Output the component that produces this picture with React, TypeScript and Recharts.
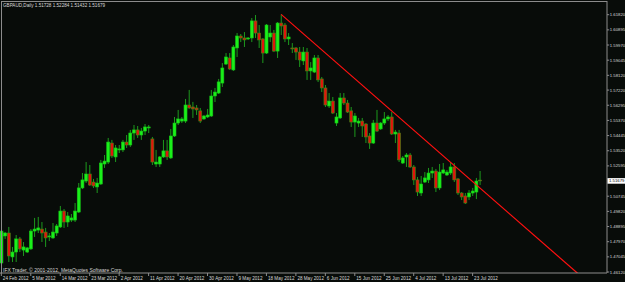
import { ComposedChart, Bar, XAxis, YAxis, ReferenceLine } from 'recharts';

// GBPAUD daily, one candle per trading day (Sunday bars included), 24 Feb 2012 onward
const dateLabels = [
  '24 Feb 2012', '5 Mar 2012', '14 Mar 2012', '23 Mar 2012', '2 Apr 2012', '11 Apr 2012',
  '20 Apr 2012', '30 Apr 2012', '9 May 2012', '18 May 2012', '28 May 2012', '6 Jun 2012',
  '15 Jun 2012', '25 Jun 2012', '4 Jul 2012', '13 Jul 2012', '23 Jul 2012',
];

const opens = [
  1.4667, 1.4832, 1.4850, 1.4704, 1.4734, 1.4814, 1.4746, 1.4734, 1.4753, 1.4862,
  1.4868, 1.4874, 1.4856, 1.4826, 1.4820, 1.4850, 1.4887, 1.4984, 1.4917, 1.4929,
  1.4929, 1.4978, 1.5125, 1.5167, 1.5210, 1.5161, 1.5131, 1.5149, 1.5271, 1.5283,
  1.5399, 1.5314, 1.5357, 1.5357, 1.5405, 1.5387, 1.5460, 1.5479, 1.5448, 1.5472,
  1.5491, 1.5424, 1.5271, 1.5271, 1.5314, 1.5351, 1.5308, 1.5442, 1.5521, 1.5533,
  1.5533, 1.5631, 1.5619, 1.5613, 1.5595, 1.5546, 1.5558, 1.5564, 1.5686, 1.5704,
  1.5765, 1.5881, 1.5918, 1.5845, 1.5979, 1.6052, 1.6040, 1.6034, 1.6040, 1.6144,
  1.6070, 1.6034, 1.5948, 1.6046, 1.6070, 1.5960, 1.6131, 1.6119, 1.6034, 1.5979,
  1.5979, 1.5954, 1.5900, 1.5954, 1.5839, 1.5832, 1.5918, 1.5790, 1.5735, 1.5625,
  1.5655, 1.5521, 1.5552, 1.5674, 1.5643, 1.5595, 1.5527, 1.5521, 1.5533, 1.5515,
  1.5442, 1.5399, 1.5521, 1.5485, 1.5521, 1.5546, 1.5558, 1.5454, 1.5460, 1.5277,
  1.5314, 1.5326, 1.5253, 1.5174, 1.5094, 1.5161, 1.5174, 1.5216, 1.5228, 1.5125,
  1.5216, 1.5204, 1.5216, 1.5253, 1.5180, 1.5094, 1.5076, 1.5070, 1.5094, 1.5100,
  1.51728,
];

const highs = [
  1.4868, 1.4856, 1.4887, 1.4765, 1.4838, 1.4826, 1.4795, 1.4765, 1.4874, 1.4942,
  1.4948, 1.4917, 1.4881, 1.4850, 1.4911, 1.4905, 1.5015, 1.4996, 1.4978, 1.4966,
  1.5033, 1.5155, 1.5216, 1.5283, 1.5265, 1.5180, 1.5186, 1.5296, 1.5326, 1.5430,
  1.5418, 1.5387, 1.5387, 1.5418, 1.5448, 1.5479, 1.5509, 1.5503, 1.5491, 1.5515,
  1.5509, 1.5436, 1.5357, 1.5320, 1.5418, 1.5418, 1.5485, 1.5558, 1.5601, 1.5558,
  1.5668, 1.5723, 1.5650, 1.5631, 1.5613, 1.5570, 1.5607, 1.5723, 1.5735, 1.5790,
  1.5887, 1.5948, 1.5948, 1.5997, 1.6070, 1.6064, 1.6076, 1.6046, 1.6162, 1.6180,
  1.6119, 1.6040, 1.6125, 1.6119, 1.6089, 1.6137, 1.6184, 1.6131, 1.6070, 1.6009,
  1.5985, 1.5985, 1.5985, 1.5979, 1.5893, 1.5936, 1.5936, 1.5802, 1.5753, 1.5704,
  1.5680, 1.5582, 1.5704, 1.5704, 1.5662, 1.5619, 1.5582, 1.5552, 1.5552, 1.5521,
  1.5460, 1.5540, 1.5601, 1.5527, 1.5588, 1.5570, 1.5588, 1.5479, 1.5479, 1.5320,
  1.5338, 1.5338, 1.5265, 1.5192, 1.5198, 1.5222, 1.5247, 1.5253, 1.5241, 1.5271,
  1.5277, 1.5235, 1.5283, 1.5277, 1.5186, 1.5100, 1.5094, 1.5112, 1.5125, 1.5186,
  1.52284,
];

const lows = [
  1.4655, 1.4814, 1.4673, 1.4673, 1.4673, 1.4734, 1.4710, 1.4728, 1.4746, 1.4826,
  1.4850, 1.4795, 1.4765, 1.4801, 1.4814, 1.4832, 1.4881, 1.4881, 1.4887, 1.4917,
  1.4917, 1.4972, 1.5118, 1.5155, 1.5137, 1.5125, 1.5094, 1.5143, 1.5247, 1.5271,
  1.5308, 1.5283, 1.5338, 1.5344, 1.5369, 1.5375, 1.5418, 1.5430, 1.5418, 1.5448,
  1.5460, 1.5265, 1.5253, 1.5253, 1.5308, 1.5296, 1.5302, 1.5436, 1.5509, 1.5521,
  1.5521, 1.5607, 1.5552, 1.5570, 1.5521, 1.5540, 1.5552, 1.5558, 1.5649, 1.5698,
  1.5741, 1.5875, 1.5845, 1.5839, 1.5924, 1.6015, 1.5985, 1.6028, 1.6015, 1.6040,
  1.5979, 1.5887, 1.5942, 1.6015, 1.5954, 1.5918, 1.6058, 1.6015, 1.5997, 1.5948,
  1.5906, 1.5863, 1.5875, 1.5784, 1.5784, 1.5826, 1.5771, 1.5710, 1.5619, 1.5613,
  1.5576, 1.5503, 1.5546, 1.5631, 1.5582, 1.5497, 1.5436, 1.5497, 1.5436, 1.5399,
  1.5363, 1.5393, 1.5466, 1.5479, 1.5509, 1.5533, 1.5448, 1.5399, 1.5283, 1.5271,
  1.5253, 1.5247, 1.5143, 1.5076, 1.5076, 1.5155, 1.5155, 1.5186, 1.5100, 1.5112,
  1.5210, 1.5198, 1.5204, 1.5161, 1.5082, 1.5051, 1.5027, 1.5051, 1.5076, 1.5057,
  1.51432,
];

const closes = [
  1.4862, 1.4850, 1.4710, 1.4734, 1.4814, 1.4753, 1.4765, 1.4759, 1.4862, 1.4874,
  1.4881, 1.4850, 1.4820, 1.4832, 1.4856, 1.4893, 1.4984, 1.4917, 1.4954, 1.4942,
  1.4984, 1.5125, 1.5174, 1.5210, 1.5143, 1.5137, 1.5155, 1.5277, 1.5289, 1.5405,
  1.5320, 1.5369, 1.5363, 1.5405, 1.5387, 1.5460, 1.5479, 1.5448, 1.5472, 1.5497,
  1.5497, 1.5283, 1.5283, 1.5314, 1.5351, 1.5314, 1.5442, 1.5521, 1.5546, 1.5546,
  1.5631, 1.5613, 1.5607, 1.5601, 1.5533, 1.5564, 1.5570, 1.5686, 1.5710, 1.5772,
  1.5857, 1.5924, 1.5851, 1.5985, 1.6052, 1.6040, 1.6028, 1.6040, 1.6144, 1.6070,
  1.6028, 1.5948, 1.6119, 1.6070, 1.5960, 1.6131, 1.6113, 1.6034, 1.6046, 1.5973,
  1.5954, 1.5906, 1.5954, 1.5839, 1.5857, 1.5918, 1.5784, 1.5735, 1.5631, 1.5655,
  1.5582, 1.5558, 1.5674, 1.5643, 1.5588, 1.5527, 1.5564, 1.5533, 1.5503, 1.5436,
  1.5399, 1.5521, 1.5472, 1.5521, 1.5546, 1.5558, 1.5454, 1.5466, 1.5296, 1.5308,
  1.5326, 1.5253, 1.5174, 1.5100, 1.5149, 1.5186, 1.5216, 1.5228, 1.5125, 1.5222,
  1.5235, 1.5222, 1.5253, 1.5174, 1.5094, 1.5070, 1.5033, 1.5094, 1.5106, 1.5167,
  1.51679,
];

const priceTicks = [
  1.6182, 1.60895, 1.5997, 1.59045, 1.5812, 1.5722, 1.56295, 1.5537, 1.54445,
  1.5352, 1.52595, 1.50745, 1.4982, 1.48895, 1.4797, 1.47045, 1.4612,
];

const trendline = [
  { bar: 76, price: 1.6184 },
  { bar: 160, price: 1.4536 },
];

const EMPTY_BARS = 34; // chart shift on the right
const LABEL_EVERY = 8;

const BG = '#080c09';
const AXIS = '#8c8c8c';
const TEXT = '#d8d8d8';
const FONT = '"Liberation Sans", Arial, sans-serif';
const FS = 4.6;
const AXIS_FS = 4.25;

const lastPrice = closes[closes.length - 1];

const data = Array.from({ length: opens.length + EMPTY_BARS }, (_, i) =>
  i < opens.length
    ? { i, o: opens[i], h: highs[i], l: lows[i], c: closes[i], range: [lows[i], highs[i]] }
    : { i }
);

const Candle = (props: any) => {
  const { x, y, width, height, payload } = props;
  if (!payload || payload.o == null || !isFinite(y)) return null;
  const top = Math.min(y, y + height);
  const span = Math.abs(height);
  const { o, h, l, c } = payload;
  const toY = (v: number) => top + ((h - v) / (h - l || 1)) * span;
  const cx = x + width / 2;
  const bull = c >= o;
  const bTop = toY(Math.max(o, c));
  const bBot = toY(Math.min(o, c));
  return (
    <g>
      <line x1={cx} x2={cx} y1={top} y2={top + span} stroke="#1d9a1d" strokeWidth={1} />
      <rect
        x={x}
        y={bTop}
        width={width}
        height={Math.max(bBot - bTop, 0.8)}
        fill={bull ? '#1af01a' : '#e0160c'}
        stroke={bull ? '#16c416' : '#3b8a16'}
        strokeWidth={0.6}
      />
    </g>
  );
};

const DateTick = (props: any) => {
  const { x, y, payload } = props;
  const idx = payload.value;
  if (idx % LABEL_EVERY !== 0 || idx / LABEL_EVERY >= dateLabels.length) return <g />;
  return (
    <g>
      <line x1={x} x2={x} y1={y} y2={y + 3} stroke={AXIS} />
      <text x={x + 1.5} y={y + 6.8} fill={TEXT} fontSize={FS} fontFamily={FONT}>
        {dateLabels[idx / LABEL_EVERY]}
      </text>
    </g>
  );
};

const PriceTick = (props: any) => {
  const { x, y, payload } = props;
  const v = payload.value;
  if (v === lastPrice) {
    return (
      <g>
        <rect x={x + 0.5} y={y - 2.8} width={18} height={5.6} fill="#ffffff" />
        <text x={x + 2} y={y + 1.5} fill="#000000" fontSize={AXIS_FS} fontFamily={FONT}>
          {v.toFixed(5)}
        </text>
      </g>
    );
  }
  return (
    <g>
      <line x1={x} x2={x + 2.2} y1={y} y2={y} stroke={AXIS} />
      <text x={x + 2.8} y={y + 1.5} fill={TEXT} fontSize={AXIS_FS} fontFamily={FONT}>
        {v.toFixed(5)}
      </text>
    </g>
  );
};

const App = () => {
  return (
    <div style={{ position: 'fixed', left: 0, top: 0, width: 625, height: 282, background: BG, overflow: 'hidden' }}>
      <ComposedChart
        width={625}
        height={282}
        data={data}
        margin={{ top: 1, right: 0, bottom: 0, left: -0.5 }}
        barCategoryGap="12%"
      >
        <XAxis
          dataKey="i"
          type="category"
          interval={0}
          height={9}
          tickSize={0}
          tickMargin={0}
          tickLine={false}
          axisLine={{ stroke: AXIS }}
          tick={<DateTick />}
        />
        <YAxis
          orientation="right"
          width={18}
          type="number"
          domain={[1.4606, 1.62656]}
          allowDataOverflow
          ticks={[...priceTicks, lastPrice]}
          interval={0}
          tickSize={0}
          tickMargin={0}
          tickLine={false}
          axisLine={{ stroke: AXIS }}
          tick={<PriceTick />}
        />
        <Bar dataKey="range" shape={<Candle />} isAnimationActive={false} />
        <ReferenceLine
          segment={trendline.map((p) => ({ x: p.bar, y: p.price }))}
          stroke="#ff1010"
          strokeWidth={1.2}
          ifOverflow="hidden"
        />
      </ComposedChart>
      <svg width={625} height={282} style={{ position: 'absolute', left: 0, top: 0, pointerEvents: 'none' }}>
        <line x1={1.5} x2={1.5} y1={1} y2={273} stroke={AXIS} />
        <line x1={1} x2={607} y1={1.5} y2={1.5} stroke={AXIS} />
        <text x={3} y={7} fill={TEXT} fontSize={FS} fontFamily={FONT}>
          GBPAUD,Daily  1.51728 1.52284 1.51432 1.51679
        </text>
        <text x={3} y={271.5} fill={TEXT} fontSize={5} fontFamily={FONT}>
          IFX Trader, © 2001-2012, MetaQuotes Software Corp.
        </text>
      </svg>
    </div>
  );
};

export default App;
